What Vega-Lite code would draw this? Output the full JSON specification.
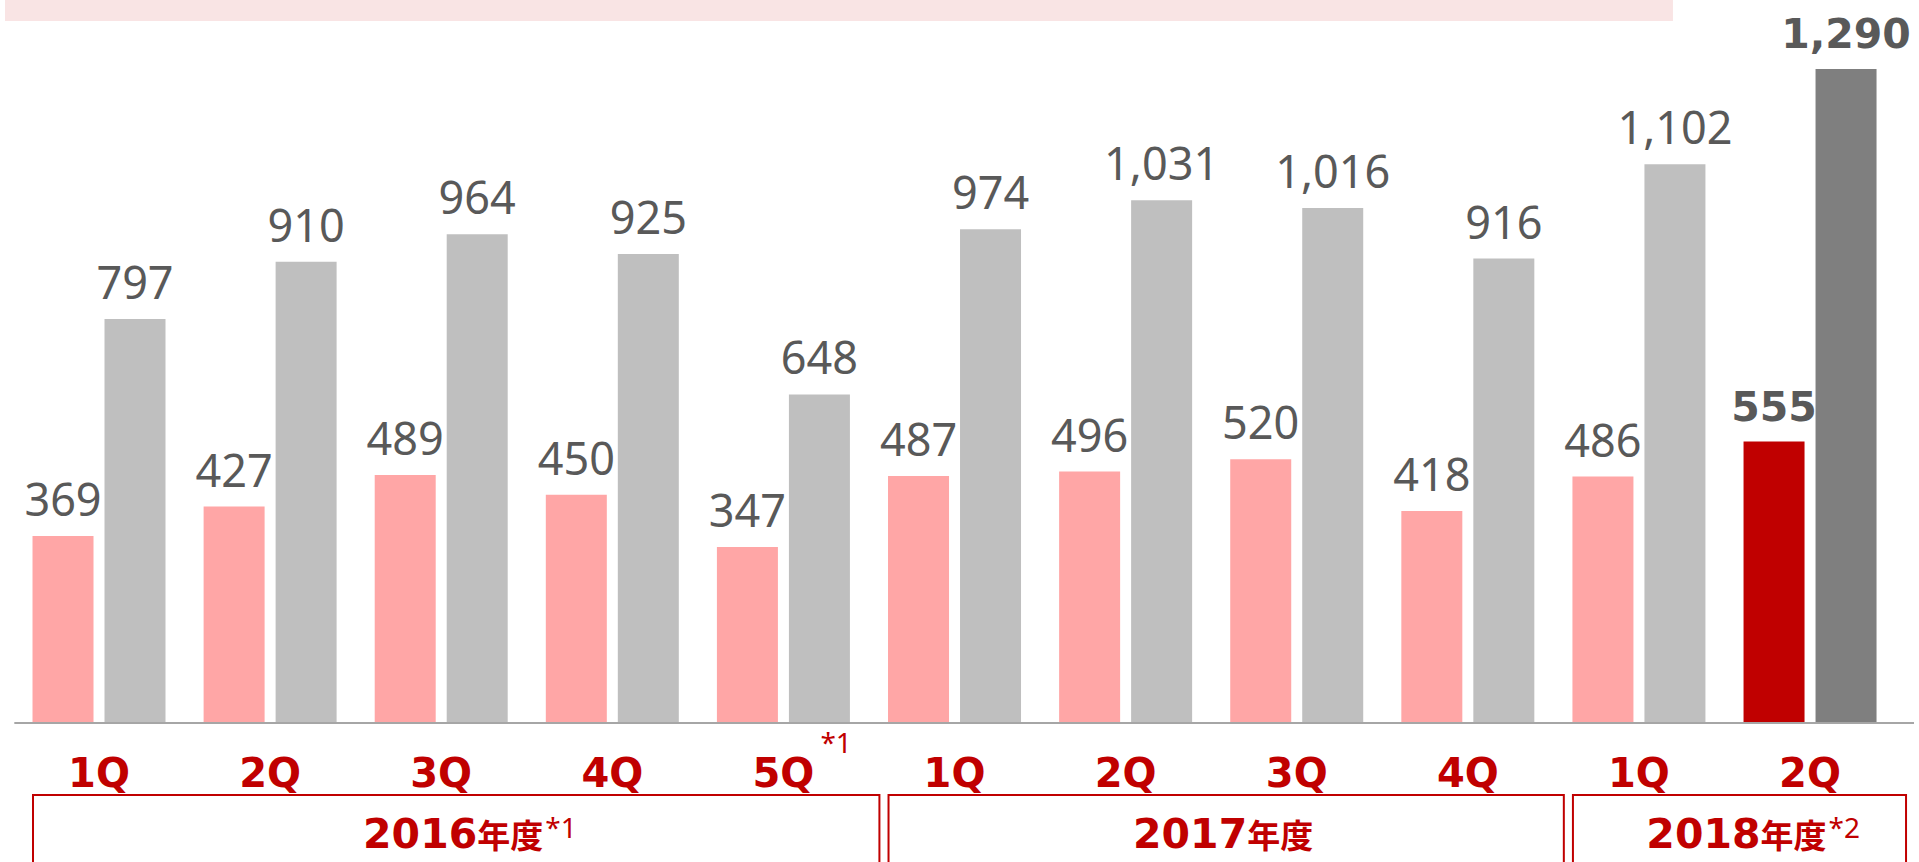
{
  "$schema": "https://vega.github.io/schema/vega-lite/v6.json",
  "width": 1919,
  "height": 862,
  "padding": 0,
  "autosize": {"type": "none"},
  "background": "white",
  "config": {"view": {"stroke": null}},
  "datasets": {
    "quarters": [
      {"idx": 0, "fy": "2016", "q": "1Q", "metric": "A", "value": 369, "latest": false},
      {"idx": 0, "fy": "2016", "q": "1Q", "metric": "B", "value": 797, "latest": false},
      {"idx": 1, "fy": "2016", "q": "2Q", "metric": "A", "value": 427, "latest": false},
      {"idx": 1, "fy": "2016", "q": "2Q", "metric": "B", "value": 910, "latest": false},
      {"idx": 2, "fy": "2016", "q": "3Q", "metric": "A", "value": 489, "latest": false},
      {"idx": 2, "fy": "2016", "q": "3Q", "metric": "B", "value": 964, "latest": false},
      {"idx": 3, "fy": "2016", "q": "4Q", "metric": "A", "value": 450, "latest": false},
      {"idx": 3, "fy": "2016", "q": "4Q", "metric": "B", "value": 925, "latest": false},
      {"idx": 4, "fy": "2016", "q": "5Q", "qnote": "*1", "metric": "A", "value": 347, "latest": false},
      {"idx": 4, "fy": "2016", "q": "5Q", "qnote": "*1", "metric": "B", "value": 648, "latest": false},
      {"idx": 5, "fy": "2017", "q": "1Q", "metric": "A", "value": 487, "latest": false},
      {"idx": 5, "fy": "2017", "q": "1Q", "metric": "B", "value": 974, "latest": false},
      {"idx": 6, "fy": "2017", "q": "2Q", "metric": "A", "value": 496, "latest": false},
      {"idx": 6, "fy": "2017", "q": "2Q", "metric": "B", "value": 1031, "latest": false},
      {"idx": 7, "fy": "2017", "q": "3Q", "metric": "A", "value": 520, "latest": false},
      {"idx": 7, "fy": "2017", "q": "3Q", "metric": "B", "value": 1016, "latest": false},
      {"idx": 8, "fy": "2017", "q": "4Q", "metric": "A", "value": 418, "latest": false},
      {"idx": 8, "fy": "2017", "q": "4Q", "metric": "B", "value": 916, "latest": false},
      {"idx": 9, "fy": "2018", "q": "1Q", "metric": "A", "value": 486, "latest": false},
      {"idx": 9, "fy": "2018", "q": "1Q", "metric": "B", "value": 1102, "latest": false},
      {"idx": 10, "fy": "2018", "q": "2Q", "metric": "A", "value": 555, "latest": true},
      {"idx": 10, "fy": "2018", "q": "2Q", "metric": "B", "value": 1290, "latest": true}
    ],
    "years": [
      {"fy": "2016", "suffix": "年度", "note": "*1", "first": 0, "last": 4},
      {"fy": "2017", "suffix": "年度", "note": "", "first": 5, "last": 8},
      {"fy": "2018", "suffix": "年度", "note": " *2", "first": 9, "last": 10}
    ]
  },
  "data": {"name": "quarters"},
  "encoding": {
    "x": {"type": "quantitative", "scale": {"domain": [-0.5494, 10.6076], "nice": false, "zero": false}, "axis": null},
    "y": {"type": "quantitative", "scale": {"domain": [-274.2, 1426.1], "nice": false, "zero": false}, "axis": null}
  },
  "layer": [
    {
      "mark": {"type": "rect", "color": "#F9E4E4"},
      "encoding": {
        "x": {"datum": -0.5494, "type": "quantitative"},
        "x2": {"datum": 9.195},
        "y": {"datum": 1426.1, "type": "quantitative"},
        "y2": {"datum": 1384.7}
      }
    },
    {
      "transform": [{"filter": "datum.metric == 'A'"}],
      "mark": {"type": "bar", "width": 61, "xOffset": -36},
      "encoding": {
        "x": {"field": "idx", "type": "quantitative"},
        "y": {"field": "value", "type": "quantitative"},
        "color": {"condition": {"test": "datum.latest", "value": "#C00000"}, "value": "#FFA6A6"}
      }
    },
    {
      "transform": [{"filter": "datum.metric == 'B'"}],
      "mark": {"type": "bar", "width": 61, "xOffset": 36},
      "encoding": {
        "x": {"field": "idx", "type": "quantitative"},
        "y": {"field": "value", "type": "quantitative"},
        "color": {"condition": {"test": "datum.latest", "value": "#7F7F7F"}, "value": "#BFBFBF"}
      }
    },
    {
      "mark": {"type": "rule", "color": "#A6A6A6", "strokeWidth": 1.5},
      "encoding": {
        "x": {"datum": -0.4913, "type": "quantitative"},
        "x2": {"datum": 10.6076},
        "y": {"datum": 0, "type": "quantitative"}
      }
    },
    {
      "transform": [{"filter": "datum.metric == 'A' && !datum.latest"}],
      "mark": {"type": "text", "xOffset": -36, "dy": -20, "baseline": "alphabetic", "align": "center", "font": "Noto Sans", "fontSize": 45, "color": "#595959"},
      "encoding": {
        "x": {"field": "idx", "type": "quantitative"},
        "y": {"field": "value", "type": "quantitative"},
        "text": {"field": "value", "type": "quantitative", "format": ","}
      }
    },
    {
      "transform": [{"filter": "datum.metric == 'B' && !datum.latest"}],
      "mark": {"type": "text", "xOffset": 36, "dy": -20, "baseline": "alphabetic", "align": "center", "font": "Noto Sans", "fontSize": 45, "color": "#595959"},
      "encoding": {
        "x": {"field": "idx", "type": "quantitative"},
        "y": {"field": "value", "type": "quantitative"},
        "text": {"field": "value", "type": "quantitative", "format": ","}
      }
    },
    {
      "transform": [{"filter": "datum.metric == 'A' && datum.latest"}],
      "mark": {"type": "text", "xOffset": -36, "dy": -21, "baseline": "alphabetic", "align": "center", "font": "DejaVu Sans", "fontWeight": "bold", "fontSize": 41, "color": "#595959"},
      "encoding": {
        "x": {"field": "idx", "type": "quantitative"},
        "y": {"field": "value", "type": "quantitative"},
        "text": {"field": "value", "type": "quantitative", "format": ","}
      }
    },
    {
      "transform": [{"filter": "datum.metric == 'B' && datum.latest"}],
      "mark": {"type": "text", "xOffset": 36, "dy": -21, "baseline": "alphabetic", "align": "center", "font": "DejaVu Sans", "fontWeight": "bold", "fontSize": 41, "color": "#595959"},
      "encoding": {
        "x": {"field": "idx", "type": "quantitative"},
        "y": {"field": "value", "type": "quantitative"},
        "text": {"field": "value", "type": "quantitative", "format": ","}
      }
    },
    {
      "transform": [{"filter": "datum.metric == 'A'"}],
      "mark": {"type": "text", "baseline": "alphabetic", "align": "center", "font": "DejaVu Sans", "fontWeight": "bold", "fontSize": 40, "color": "#C00000"},
      "encoding": {
        "x": {"field": "idx", "type": "quantitative"},
        "y": {"datum": -126.2, "type": "quantitative"},
        "text": {"field": "q"}
      }
    },
    {
      "transform": [{"filter": "datum.metric == 'A' && datum.qnote"}],
      "mark": {"type": "text", "baseline": "alphabetic", "align": "left", "dx": 37, "font": "Noto Sans", "fontSize": 28, "color": "#C00000"},
      "encoding": {
        "x": {"field": "idx", "type": "quantitative"},
        "y": {"datum": -59.2, "type": "quantitative"},
        "text": {"field": "qnote"}
      }
    },
    {
      "data": {"name": "years"},
      "mark": {"type": "rect", "fill": "white", "fillOpacity": 0, "stroke": "#C00000", "strokeWidth": 2, "xOffset": -66, "x2Offset": 96},
      "encoding": {
        "x": {"field": "first", "type": "quantitative"},
        "x2": {"field": "last"},
        "y": {"datum": -142, "type": "quantitative"},
        "y2": {"datum": -300}
      }
    },
    {
      "data": {"name": "years"},
      "transform": [{"calculate": "(datum.first + datum.last) / 2", "as": "mid"}],
      "mark": {"type": "text", "baseline": "alphabetic", "align": "right", "dx": 36, "font": "DejaVu Sans", "fontWeight": "bold", "fontSize": 41, "color": "#C00000"},
      "encoding": {
        "x": {"field": "mid", "type": "quantitative"},
        "y": {"datum": -246.6, "type": "quantitative"},
        "text": {"field": "fy"}
      }
    },
    {
      "data": {"name": "years"},
      "transform": [{"calculate": "(datum.first + datum.last) / 2", "as": "mid"}],
      "mark": {"type": "text", "baseline": "alphabetic", "align": "left", "dx": 36, "font": "Noto Sans CJK JP", "fontWeight": "bold", "fontSize": 33, "color": "#C00000"},
      "encoding": {
        "x": {"field": "mid", "type": "quantitative"},
        "y": {"datum": -246.6, "type": "quantitative"},
        "text": {"field": "suffix"}
      }
    },
    {
      "data": {"name": "years"},
      "transform": [{"calculate": "(datum.first + datum.last) / 2", "as": "mid"}],
      "mark": {"type": "text", "baseline": "alphabetic", "align": "left", "dx": 104, "font": "Noto Sans", "fontSize": 28, "color": "#C00000"},
      "encoding": {
        "x": {"field": "mid", "type": "quantitative"},
        "y": {"datum": -227, "type": "quantitative"},
        "text": {"field": "note"}
      }
    }
  ]
}
